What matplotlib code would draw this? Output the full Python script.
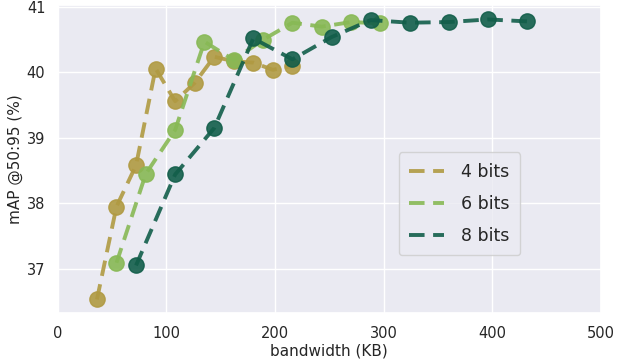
import matplotlib
matplotlib.use('Agg')
import matplotlib.pyplot as plt
import seaborn as sns

# bandwidth (KB) and mAP values per bit setting
bw_4 = [36, 54, 72, 90, 108, 126, 144, 162, 180, 198, 216]
map_4 = [36.53, 37.95, 38.58, 40.06, 39.56, 39.84, 40.24, 40.17, 40.15, 40.04, 40.10]

bw_6 = [54, 81, 108, 135, 162, 189, 216, 243, 270, 297]
map_6 = [37.09, 38.45, 39.12, 40.47, 40.19, 40.50, 40.76, 40.70, 40.77, 40.75]

bw_8 = [72, 108, 144, 180, 216, 252, 288, 324, 360, 396, 432]
map_8 = [37.05, 38.44, 39.15, 40.52, 40.20, 40.54, 40.80, 40.76, 40.77, 40.81, 40.78]

labels = ['4 bits', '6 bits', '8 bits']
colors = ['#b09a42', '#88b955', '#125e4a']

sns.set_theme(style='darkgrid')
fig, ax = plt.subplots(figsize=(6.22, 3.6), dpi=100)

for xs, ys, lab, col in zip([bw_4, bw_6, bw_8], [map_4, map_6, map_8], labels, colors):
    ax.plot(xs, ys, linestyle='--', marker='o', color=col, markersize=11,
            linewidth=2.8, alpha=0.9, label=lab, dashes=(4, 2.2))

ax.set_xlim(0, 500)
ax.set_ylim(36.32, 41.03)
ax.set_yticks([37, 38, 39, 40, 41])
ax.tick_params(labelsize=10.5, pad=3)
ax.set_xlabel('bandwidth (KB)', fontsize=11, labelpad=2)
ax.set_ylabel('mAP @50:95 (%)', fontsize=11, labelpad=3)

leg = ax.legend(loc='center', bbox_to_anchor=(0.74, 0.355), fontsize=12.5,
                handlelength=2.0, labelspacing=0.8, handletextpad=1.0,
                borderpad=0.6)
for h in leg.legend_handles:
    h.set_marker('')

fig.subplots_adjust(left=0.093, right=0.966, top=0.986, bottom=0.13)
fig.savefig('out.png', dpi=100)
